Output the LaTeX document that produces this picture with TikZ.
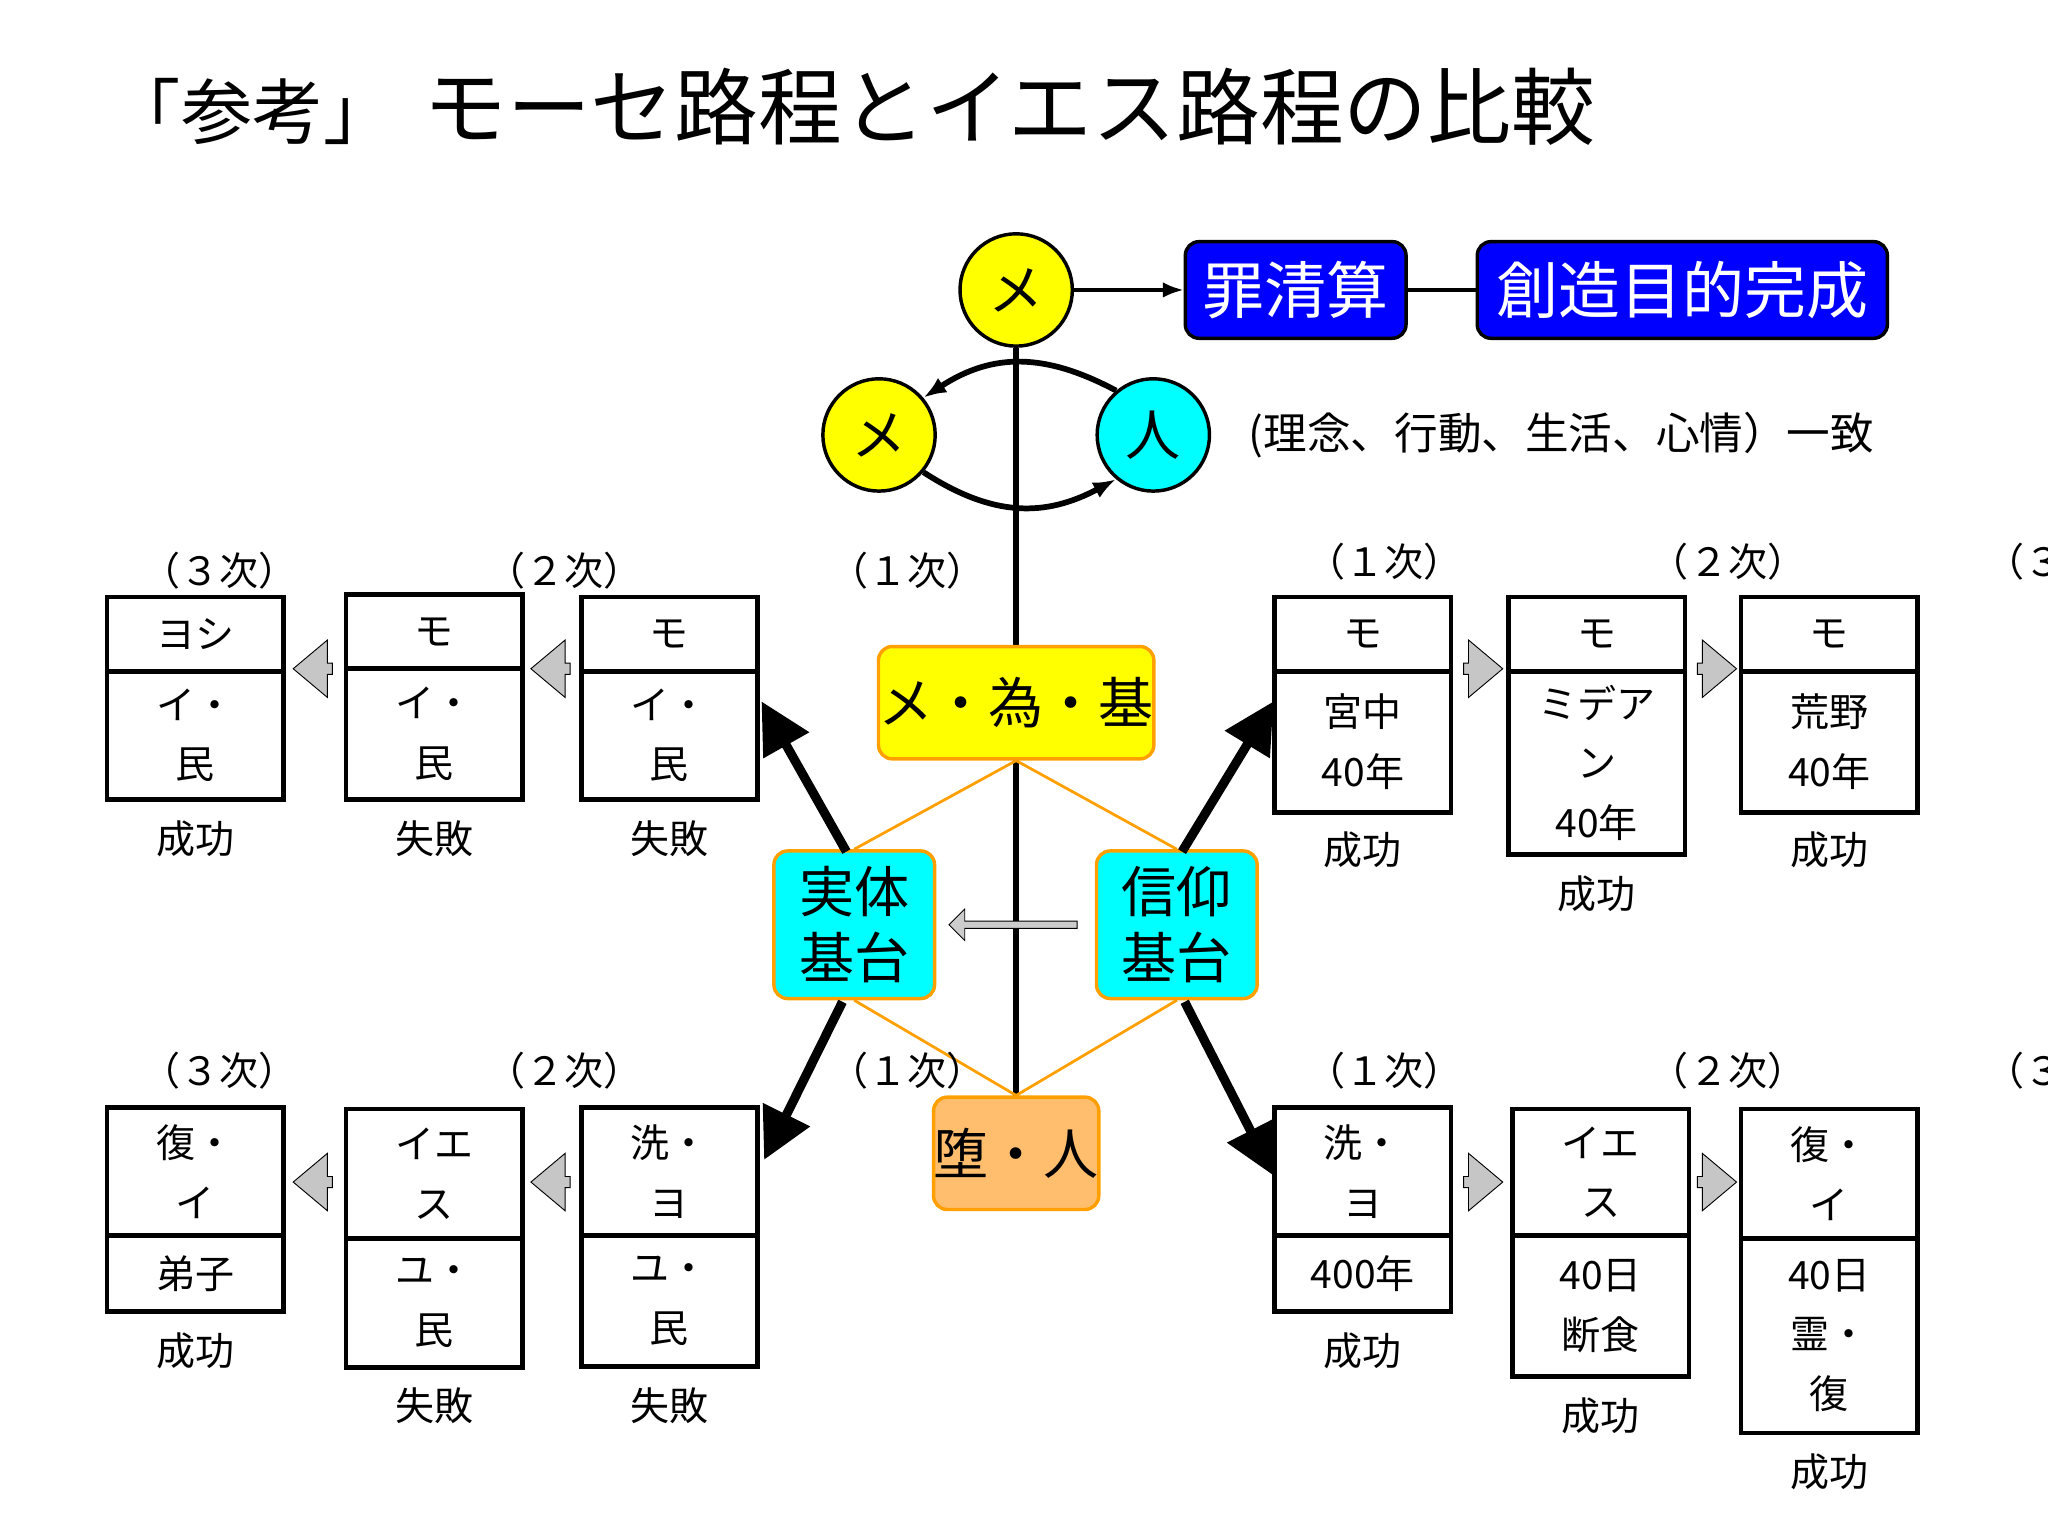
\documentclass[tikz,border=0pt]{standalone}
\usepackage{fontspec}
\setmainfont{Noto Sans CJK JP}
\usetikzlibrary{arrows.meta,shapes.arrows}
\definecolor{cy}{RGB}{0,255,255}
\definecolor{bl}{RGB}{0,0,255}
\definecolor{yl}{RGB}{255,255,0}
\definecolor{org}{RGB}{255,160,0}
\definecolor{lor}{RGB}{255,190,110}
\begin{document}
\begin{tikzpicture}[x=0.02cm,y=-0.02cm,
 fs/.style 2 args={font=\fontsize{#1}{#2}\selectfont},
 circ/.style={circle,draw,line width=1.5pt,minimum size=86*0.02cm,inner sep=0,fs={24}{28}},
 big/.style={draw,line width=1.5pt,rounded corners=6pt,inner sep=0,fs={24}{29}},
 lab/.style={fs={17}{26}},
 ha/.style={single arrow,draw,fill=gray!45,minimum width=44*0.02cm,single arrow head extend=5pt,minimum height=30*0.02cm,inner sep=1pt,single arrow tip angle=80},
 thick arr/.style={line width=4pt,-{Triangle[length=22pt,width=22pt]}},
 ol/.style={org,line width=1.2pt}]
\useasboundingbox (0,0) rectangle (1568,1176);
\node[fs={31}{36},anchor=west] (t1) at (78,85) {「参考」};
\node[fs={36.5}{40},anchor=west] (t2) at (318,82) {モーセ路程とイエス路程の比較};
% top
\node[circ,fill=yl] (m0) at (778,222) {メ};
\node[big,fill=bl,text=white,minimum width=169*0.02cm,minimum height=74*0.02cm,fs={27}{30}] (b1) at (992,222) {罪清算};
\node[big,fill=bl,text=white,minimum width=314*0.02cm,minimum height=74*0.02cm,fs={27}{30}] (b2) at (1288,222) {創造目的完成};
\draw[line width=1.5pt,-{Latex[length=9pt]}] (m0) -- (b1);
\draw[line width=1.5pt] (b1) -- (b2);
\coordinate (vbot) at (778,840);
\draw[line width=2.5pt] (m0) -- (vbot);
\node[circ,fill=yl] (m1) at (673,333) {メ};
\node[circ,fill=cy] (h1) at (883,333) {人};
\draw[line width=2.5pt,-{Latex[length=10pt]}] (h1.130) .. controls (800,270) and (760,270) .. (m1.40);
\draw[line width=2.5pt,-{Latex[length=10pt]}] (m1.-40) .. controls (760,396) and (800,396) .. (h1.-130);
\node[fs={19}{22},anchor=west] (ic) at (950,333) {(理念、行動、生活、心情）一致};
% center
\node[big,draw=org,fill=yl,minimum width=185*0.02cm,minimum height=86*0.02cm] (mtk) at (778,538) {メ・為・基};
\node[big,draw=org,fill=cy,minimum width=123*0.02cm,minimum height=113*0.02cm,align=center] (jt) at (654,708) {実体\\基台};
\node[big,draw=org,fill=cy,minimum width=123*0.02cm,minimum height=113*0.02cm,align=center] (sk) at (901,708) {信仰\\基台};
\node[big,draw=org,fill=lor,minimum width=123*0.02cm,minimum height=86*0.02cm] (dj) at (778,883) {堕・人};
\draw[ol] (mtk.south) -- (jt.north) (mtk.south) -- (sk.north) (jt.south) -- (dj.north) (sk.south) -- (dj.north);
\node[single arrow,draw,fill=gray!40,shape border rotate=180,minimum width=24*0.02cm,minimum height=98*0.02cm,single arrow head extend=4pt,inner sep=1pt] (ga) at (777,708) {};
% labels
\foreach \x/\y/\t [count=\i] in {695/437/（１次）,432/437/（２次）,168/437/（３次）,1060/430/（１次）,1323/430/（２次）,1580/430/（３次）,695/820/（１次）,432/820/（２次）,168/820/（３次）,1060/820/（１次）,1323/820/（２次）,1580/820/（３次）}
  \node[lab] (L\i) at (\x,\y) {\t};
\foreach \n/\xa/\xb/\ya/\yd/\yb/\tp/\bt/\rs/\ry in {
 A/445/580/457/514/612/モ/{イ・\\民}/失敗/642,
 B/265/400/455/512/612/モ/{イ・\\民}/失敗/642,
 C/82/217/457/514/612/ヨシ/{イ・\\民}/成功/642,
 D/976/1111/457/514/622/モ/{宮中\\40年}/成功/651,
 E/1155/1290/457/514/654/モ/{ミデア\\ン\\40年}/成功/684,
 F/1333/1468/457/514/622/モ/{荒野\\40年}/成功/651,
 G/445/580/848/946/1046/{洗・\\ヨ}/{ユ・\\民}/失敗/1076,
 H/265/400/849/948/1047/{イエ\\ス}/{ユ・\\民}/失敗/1076,
 I/82/217/848/946/1004/{復・\\イ}/弟子/成功/1034,
 J/976/1111/848/946/1004/{洗・\\ヨ}/400年/成功/1034,
 K/1158/1293/849/946/1054/{イエ\\ス}/{40日\\断食}/成功/1084,
 L/1333/1468/849/948/1097/{復・\\イ}/{40日\\霊・\\復}/成功/1127}
{
 \draw[line width=2pt] (\xa,\ya) rectangle (\xb,\yb);
 \draw[line width=2pt] (\xa,\yd) -- (\xb,\yd);
 \node[lab,align=center] (\n t) at ({(\xa+\xb)/2},{(\ya+\yd)/2}) {\tp};
 \node[lab,align=center] (\n b) at ({(\xa+\xb)/2},{(\yd+\yb)/2}) {\bt};
 \node[lab] (\n r) at ({(\xa+\xb)/2},\ry) {\rs};
}
\coordinate (ua) at (583,537); \coordinate (la) at (585,888);
\coordinate (ub) at (975,537); \coordinate (lb) at (975,900);
\draw[thick arr] (648,652) -- (ua);
\draw[thick arr] (645,767) -- (la);
\draw[thick arr] (905,652) -- (ub);
\draw[thick arr] (907,767) -- (lb);
\node[ha,shape border rotate=180] (h1a) at (242,512) {};
\node[ha,shape border rotate=180] (h2a) at (424,512) {};
\node[ha] (h3a) at (1133,512) {};
\node[ha] (h4a) at (1312,512) {};
\node[ha,shape border rotate=180] (h5a) at (242,905) {};
\node[ha,shape border rotate=180] (h6a) at (424,905) {};
\node[ha] (h7a) at (1133,905) {};
\node[ha] (h8a) at (1312,905) {};
\end{tikzpicture}
\end{document}
